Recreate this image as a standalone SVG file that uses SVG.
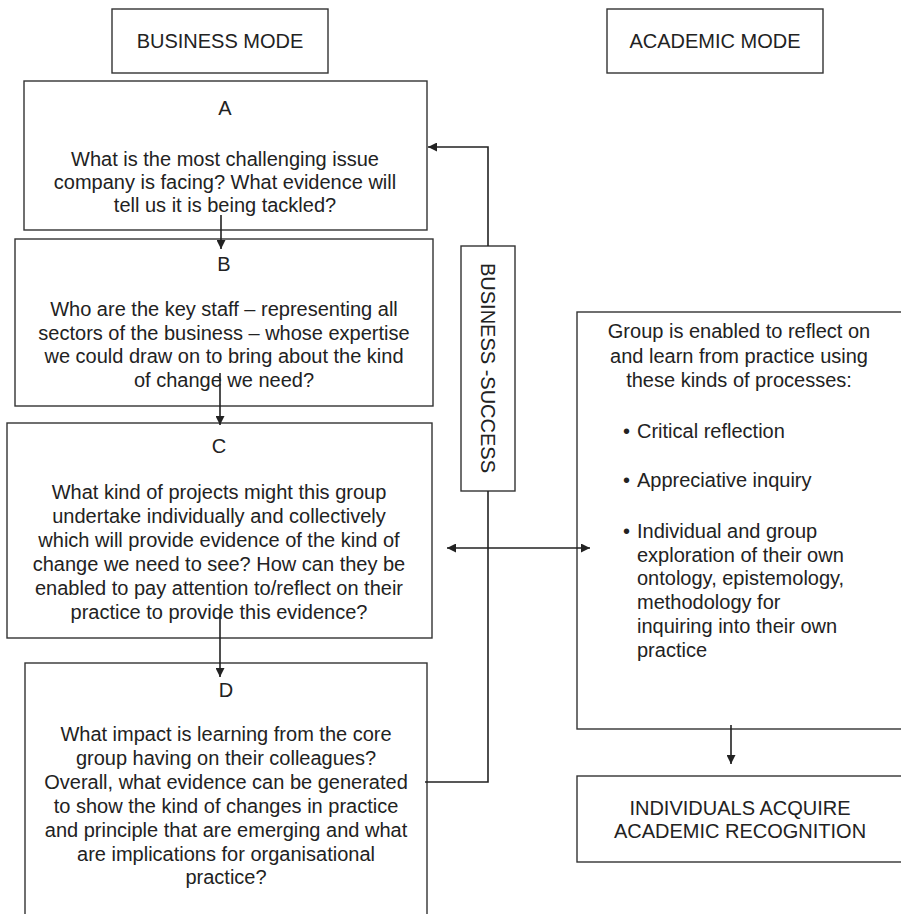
<svg xmlns="http://www.w3.org/2000/svg" width="901" height="914" viewBox="0 0 901 914">
<defs>
<style>
.box{fill:#fff;stroke:#333;stroke-width:1.4}
.t{font-family:"Liberation Sans",Arial,Helvetica,sans-serif;font-size:20px;fill:#222}
.c{text-anchor:middle}
.ln{fill:none;stroke:#222;stroke-width:1.6}
</style>
<marker id="ah" viewBox="0 0 10 10" refX="10" refY="5" markerWidth="11" markerHeight="9" markerUnits="userSpaceOnUse" orient="auto-start-reverse">
<path d="M0,0 L10,5 L0,10 z" fill="#222"/>
</marker>
</defs>
<rect width="901" height="914" fill="#fff"/>

<g id="business-mode">
<rect class="box" x="112" y="9" width="216" height="64"/>
<text class="t c" x="220" y="48">BUSINESS MODE</text>
</g>

<g id="academic-mode">
<rect class="box" x="607" y="9" width="216" height="64"/>
<text class="t c" x="715" y="48">ACADEMIC MODE</text>
</g>

<g id="node-a">
<rect class="box" x="24" y="81" width="403" height="149"/>
<text class="t c" x="225" y="115">A</text>
<text class="t c" x="225" y="166">What is the most challenging issue</text>
<text class="t c" x="225" y="189">company is facing? What evidence will</text>
<text class="t c" x="225" y="212">tell us it is being tackled?</text>
</g>

<g id="node-b">
<rect class="box" x="15" y="239" width="418" height="167"/>
<text class="t c" x="224" y="271">B</text>
<text class="t c" x="224" y="316">Who are the key staff – representing all</text>
<text class="t c" x="224" y="340">sectors of the business – whose expertise</text>
<text class="t c" x="224" y="363">we could draw on to bring about the kind</text>
<text class="t c" x="224" y="387">of change we need?</text>
</g>

<g id="node-c">
<rect class="box" x="7" y="423" width="425" height="215"/>
<text class="t c" x="219" y="453">C</text>
<text class="t c" x="219" y="499">What kind of projects might this group</text>
<text class="t c" x="219" y="523">undertake individually and collectively</text>
<text class="t c" x="219" y="547">which will provide evidence of the kind of</text>
<text class="t c" x="219" y="571">change we need to see? How can they be</text>
<text class="t c" x="219" y="595">enabled to pay attention to/reflect on their</text>
<text class="t c" x="219" y="619">practice to provide this evidence?</text>
</g>

<g id="node-d">
<rect class="box" x="25" y="663" width="402" height="270"/>
<text class="t c" x="226" y="697">D</text>
<text class="t c" x="226" y="741">What impact is learning from the core</text>
<text class="t c" x="226" y="765">group having on their colleagues?</text>
<text class="t c" x="226" y="789">Overall, what evidence can be generated</text>
<text class="t c" x="226" y="813">to show the kind of changes in practice</text>
<text class="t c" x="226" y="837">and principle that are emerging and what</text>
<text class="t c" x="226" y="861">are implications for organisational</text>
<text class="t c" x="226" y="884">practice?</text>
</g>

<g id="business-success">
<rect class="box" x="461" y="246" width="54" height="245"/>
<text class="t c" transform="translate(488,368) rotate(90)" x="0" y="7">BUSINESS -SUCCESS</text>
</g>

<g id="group-reflect">
<rect class="box" x="577" y="312" width="330" height="417"/>
<text class="t c" x="739" y="338">Group is enabled to reflect on</text>
<text class="t c" x="739" y="363">and learn from practice using</text>
<text class="t c" x="739" y="387">these kinds of processes:</text>
<text class="t" x="623" y="438">•</text>
<text class="t" x="637" y="438">Critical reflection</text>
<text class="t" x="623" y="487">•</text>
<text class="t" x="637" y="487">Appreciative inquiry</text>
<text class="t" x="623" y="538">•</text>
<text class="t" x="637" y="538">Individual and group</text>
<text class="t" x="637" y="562">exploration of their own</text>
<text class="t" x="637" y="585">ontology, epistemology,</text>
<text class="t" x="637" y="609">methodology for</text>
<text class="t" x="637" y="633">inquiring into their own</text>
<text class="t" x="637" y="657">practice</text>
</g>

<g id="academic-recognition">
<rect class="box" x="577" y="776" width="330" height="86"/>
<text class="t c" x="740" y="815">INDIVIDUALS ACQUIRE</text>
<text class="t c" x="740" y="838">ACADEMIC RECOGNITION</text>
</g>

<g id="connectors">
<line class="ln" x1="221" y1="215" x2="221" y2="249" marker-end="url(#ah)"/>
<line class="ln" x1="220" y1="373" x2="220" y2="425" marker-end="url(#ah)"/>
<line class="ln" x1="220" y1="613" x2="220" y2="677" marker-end="url(#ah)"/>
<polyline class="ln" points="425,782 488,782 488,491"/>
<polyline class="ln" points="488,246 488,147 428,147" marker-end="url(#ah)"/>
<line class="ln" x1="447" y1="548" x2="590" y2="548" marker-start="url(#ah)" marker-end="url(#ah)"/>
<line class="ln" x1="731" y1="725" x2="731" y2="764" marker-end="url(#ah)"/>
</g>
</svg>
